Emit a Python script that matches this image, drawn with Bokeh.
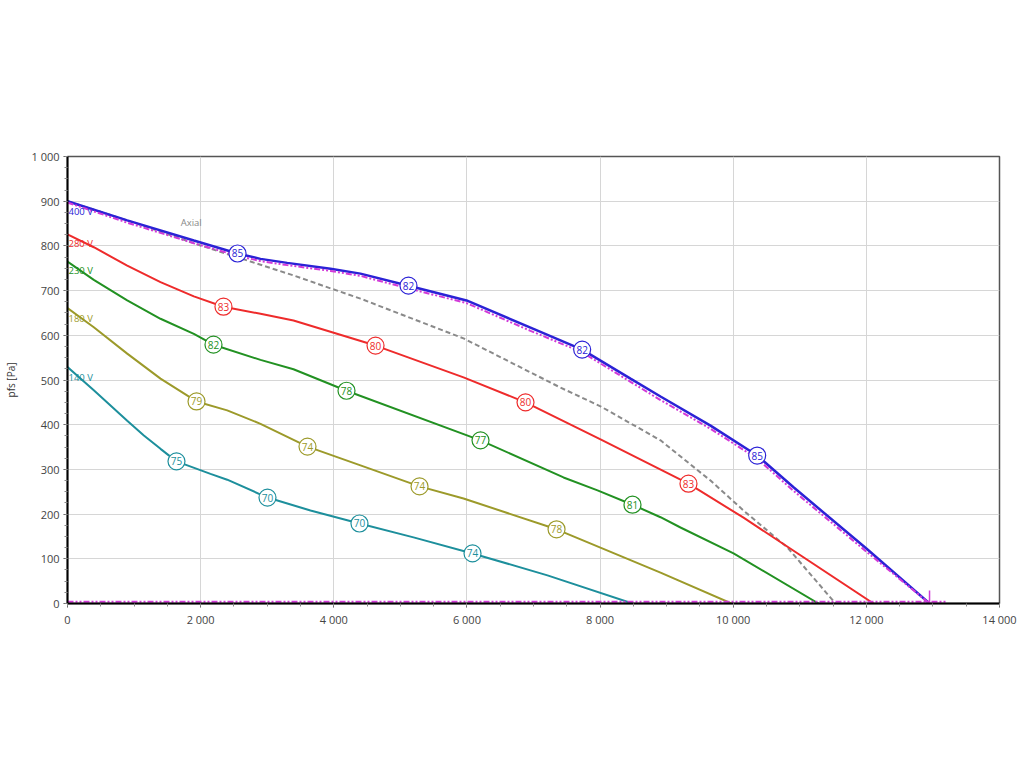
from bokeh.plotting import figure
from bokeh.models import Range1d, FixedTicker, ColumnDataSource
from bokeh.core.properties import value
from bokeh.embed import file_html
from bokeh.resources import INLINE

FONT = "Open Sans"

# ---- data ----
x_ticks = [0, 2000, 4000, 6000, 8000, 10000, 12000, 14000]
x_tick_labels = ["0", "2 000", "4 000", "6 000", "8 000", "10 000", "12 000", "14 000"]
y_ticks = [0, 100, 200, 300, 400, 500, 600, 700, 800, 900, 1000]
y_tick_labels = ["0", "100", "200", "300", "400", "500", "600", "700", "800", "900", "1 000"]

v400_x = [0, 897, 1898, 2554, 2899, 3300, 3951, 4400, 5122, 5994, 6955, 7731, 8457, 8908, 9659, 10360, 10906, 12000, 12949]
v400_y = [900, 857, 812, 783, 771, 762, 749, 738, 711, 678, 617, 568, 503, 463, 398, 331, 260, 123, 0]

sys_x = [0, 897, 1898, 2554, 2899, 3300, 3951, 4400, 5122, 5994, 6955, 7731, 8457, 8908, 9659, 10360, 10906, 12000, 12949]
sys_y = [897, 852, 806, 778, 766, 757, 744, 733, 705, 672, 610, 562, 496, 455, 391, 324, 252, 116, 0]

v280_x = [0, 395, 897, 1397, 1898, 2343, 2899, 3395, 4627, 5949, 6880, 8007, 9328, 10155, 12107]
v280_y = [826, 797, 756, 719, 687, 664, 648, 633, 577, 506, 450, 367, 268, 192, 0]

v230_x = [0, 395, 897, 1397, 1898, 2193, 2899, 3395, 4191, 6204, 7451, 7962, 8487, 8908, 9208, 10005, 11281]
v230_y = [765, 724, 678, 637, 603, 579, 545, 524, 476, 365, 282, 253, 221, 193, 170, 112, 0]

v180_x = [0, 395, 897, 1397, 1938, 2399, 2899, 3605, 4401, 5288, 5949, 7346, 8908, 9974]
v180_y = [661, 618, 559, 503, 452, 432, 402, 351, 309, 262, 235, 166, 69, 0]

v140_x = [0, 395, 897, 1147, 1397, 1637, 2148, 2399, 3004, 3650, 4386, 5198, 6084, 7210, 8487]
v140_y = [529, 477, 409, 376, 346, 318, 290, 277, 237, 208, 179, 148, 112, 63, 0]

axial_x = [0, 1000, 1998, 2749, 3395, 3951, 4401, 5949, 7406, 8007, 8908, 9659, 10155, 10816, 11537]
axial_y = [900, 852, 801, 765, 734, 705, 682, 593, 483, 441, 365, 275, 208, 125, 0]

base_x = [0, 13190]
base_y = [4, 4]
op_x = [12949]
op_y = [0]

# efficiency labels along the curves
lab400 = ([2554, 5122, 7731, 10360], [783, 711, 568, 331], ["85", "82", "82", "85"])
lab280 = ([2343, 4627, 6880, 9328], [664, 577, 450, 268], ["83", "80", "80", "83"])
lab230 = ([2193, 4191, 6204, 8487], [579, 476, 365, 221], ["82", "78", "77", "81"])
lab180 = ([1938, 3605, 5288, 7346], [452, 351, 262, 166], ["79", "74", "74", "78"])
lab140 = ([1637, 3004, 4386, 6084], [318, 237, 179, 112], ["75", "70", "70", "74"])

volt_names = ["400 V", "280 V", "230 V", "180 V", "140 V"]
volt_y = [877, 805, 745, 638, 506]

C400, C280, C230, C180, C140 = "#2b22d6", "#ee2b2b", "#229122", "#9c9a2a", "#1d8f9c"
CSYS = "#d23ad8"
CAX = "#8a8a8a"

p = figure(frame_width=932, frame_height=447,
           min_border_left=67, min_border_top=156, min_border_right=25, min_border_bottom=157,
           x_range=Range1d(0, 14000), y_range=Range1d(0, 1000),
           output_backend="svg", toolbar_location=None)

p.background_fill_color = "white"
p.border_fill_color = "white"
p.outline_line_color = "#555555"
p.outline_line_width = 1.5

# axes
p.xaxis.ticker = FixedTicker(ticks=x_ticks, minor_ticks=list(range(0, 14001, 500)))
p.yaxis.ticker = FixedTicker(ticks=y_ticks, minor_ticks=list(range(0, 1001, 25)))
p.xaxis.major_label_overrides = {t: l for t, l in zip(x_ticks, x_tick_labels)}
p.yaxis.major_label_overrides = {t: l for t, l in zip(y_ticks, y_tick_labels)}
for ax in (p.xaxis, p.yaxis):
    ax.axis_line_color = "black"
    ax.axis_line_width = 2
    ax.major_tick_line_color = "#555555"
    ax.minor_tick_line_color = "#888888"
    ax.major_tick_out = 4
    ax.major_tick_in = 0
    ax.minor_tick_out = 3
    ax.minor_tick_in = 0
    ax.major_label_text_font = FONT
    ax.major_label_text_font_size = "11px"
    ax.major_label_text_color = "#444444"
p.xaxis.major_label_standoff = 4
p.yaxis.major_label_standoff = 4
p.yaxis.axis_label = "pfs [Pa]"
p.yaxis.axis_label_text_font = FONT
p.yaxis.axis_label_text_font_size = "10px"
p.yaxis.axis_label_text_font_style = "normal"
p.yaxis.axis_label_text_color = "#333333"
p.yaxis.axis_label_standoff = 10

p.xgrid.grid_line_color = "#d6d6d6"
p.ygrid.grid_line_color = "#d6d6d6"
p.xgrid.grid_line_width = 1
p.ygrid.grid_line_width = 1

# curves
p.line(axial_x, axial_y, line_color=CAX, line_width=2, line_dash="5 3")
p.line(v140_x, v140_y, line_color=C140, line_width=2)
p.line(v180_x, v180_y, line_color=C180, line_width=2)
p.line(v230_x, v230_y, line_color=C230, line_width=2)
p.line(v280_x, v280_y, line_color=C280, line_width=2)
p.line(v400_x, v400_y, line_color=C400, line_width=2.5)
p.line(sys_x, sys_y, line_color=CSYS, line_width=2, line_dash="6 2 2 2 2 2")
p.line(base_x, base_y, line_color=CSYS, line_width=2, line_dash="6 2 2 2 2 2")
p.scatter(op_x, op_y, marker="cross", size=26, line_color=CSYS, line_width=1.5)

# efficiency markers
for (lx, ly, lt), col in zip([lab400, lab280, lab230, lab180, lab140], [C400, C280, C230, C180, C140]):
    src = ColumnDataSource(dict(x=lx, y=ly, t=lt))
    p.scatter("x", "y", source=src, marker="circle", size=17, fill_color="white",
              line_color=col, line_width=1.2)
    p.text("x", "y", text="t", source=src, text_align="center", text_baseline="middle",
           text_font=value(FONT), text_font_size="10px", text_color=col)

# voltage labels
p.text([0] * 5, volt_y, text=volt_names, x_offset=1, text_align="left", text_baseline="middle",
       text_font=value(FONT), text_font_size="9.5px",
       text_color=[C400, C280, C230, C180, C140])
p.text([1700], [852], text=["Axial"], text_align="left", text_baseline="middle",
       text_font=value(FONT), text_font_size="9.5px", text_color="#888888")

open("out.html", "w").write(file_html(p, INLINE))
